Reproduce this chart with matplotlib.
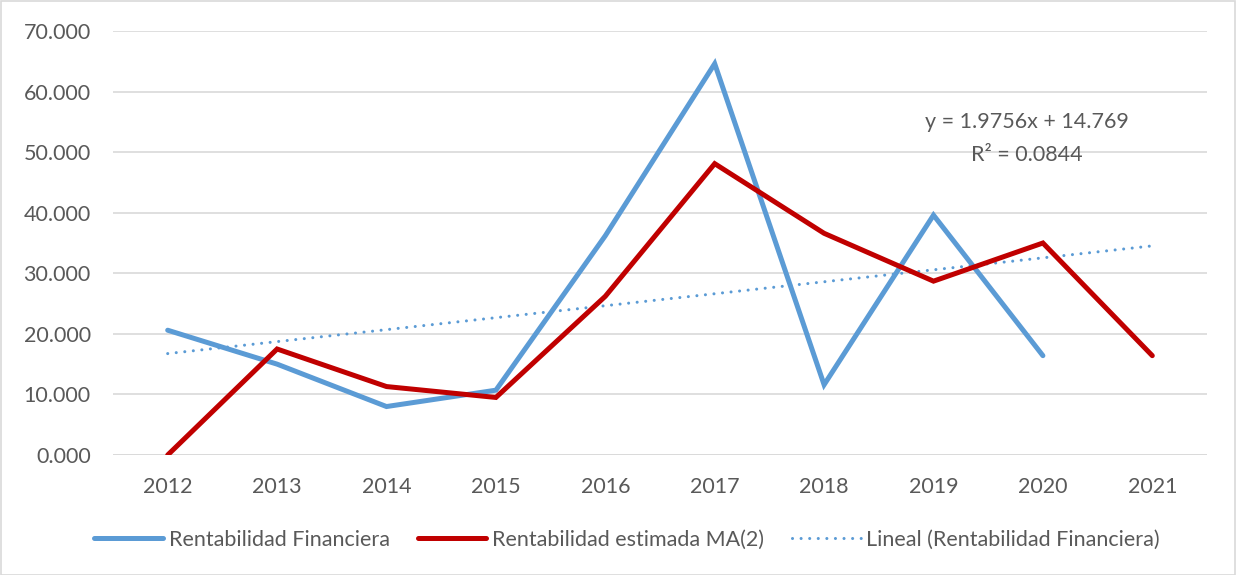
import numpy as np
import matplotlib.pyplot as plt
from matplotlib.patches import Rectangle
from matplotlib.ticker import FuncFormatter

# ── DATA ──────────────────────────────────────────────────────────────────────
years = ['2012', '2013', '2014', '2015', '2016', '2017', '2018', '2019', '2020', '2021']
rent_financiera = [20.6, 15.0, 8.0, 10.7, 36.2, 64.6, 11.6, 39.6, 16.4]
rent_ma2 = [0.0, 17.5, 11.3, 9.5, 26.2, 48.1, 36.6, 28.7, 35.0, 16.4]
trend_slope, trend_icpt = 1.9756, 14.769
eq_text = 'y = 1.9756x + 14.769\nR² = 0.0844'
y_ticks = [0, 10, 20, 30, 40, 50, 60, 70]

# ── STYLE ─────────────────────────────────────────────────────────────────────
BLUE = '#5B9BD5'
RED = '#C00000'
GREY_TXT = '#595959'
FS = 15.5
plt.rcParams['font.family'] = ['Lato', 'DejaVu Sans']

fig = plt.figure(figsize=(12.36, 5.75), dpi=100)
ax = fig.add_axes([113 / 1236, 120 / 575, (1207 - 113) / 1236, (544 - 120) / 575])

x = np.arange(len(years))
x_fin = x[:len(rent_financiera)]
trend = trend_slope * (x + 1) + trend_icpt

ax.plot(x_fin, rent_financiera, color=BLUE, lw=3.6, solid_capstyle='round',
        solid_joinstyle='miter', label='Rentabilidad Financiera', zorder=3)
ax.plot(x, rent_ma2, color=RED, lw=3.6, solid_capstyle='round',
        solid_joinstyle='miter', label='Rentabilidad estimada MA(2)', zorder=4)
ax.plot(x, trend, color=BLUE, lw=2.2, linestyle=(0, (0.01, 2.8)),
        dash_capstyle='round', label='Lineal (Rentabilidad Financiera)', zorder=2)

ax.set_xlim(-0.5, len(years) - 0.5)
ax.set_ylim(0, 70)
ax.set_xticks(x)
ax.set_xticklabels(years)
ax.set_yticks(y_ticks)
ax.yaxis.set_major_formatter(FuncFormatter(lambda v, _: f'{v:.3f}'))
ax.tick_params(length=0, labelsize=FS, colors=GREY_TXT)
ax.tick_params(axis='y', pad=16)
ax.tick_params(axis='x', pad=16)
ax.grid(axis='y', color='#D9D9D9', lw=1.2)
ax.set_axisbelow(True)
for s in ax.spines.values():
    s.set_visible(False)
ax.axhline(0, color='#D9D9D9', lw=1.2, zorder=1)

ax.text(7.85, 52.3, eq_text, ha='center', va='center', fontsize=FS,
        color=GREY_TXT, linespacing=1.8)

fig.legend(loc='center', bbox_to_anchor=(627 / 1236, (575 - 540) / 575),
           ncol=3, frameon=False, fontsize=FS, labelcolor=GREY_TXT,
           handlelength=3.2, columnspacing=1.3, handletextpad=0.25)

fig.add_artist(Rectangle((0.5 / 1236, 0.5 / 575), 1 - 1.5 / 1236, 1 - 1.5 / 575,
                         transform=fig.transFigure, fill=False,
                         edgecolor='#D9D9D9', lw=1.2))

fig.savefig('out.png', dpi=100, facecolor='white')
